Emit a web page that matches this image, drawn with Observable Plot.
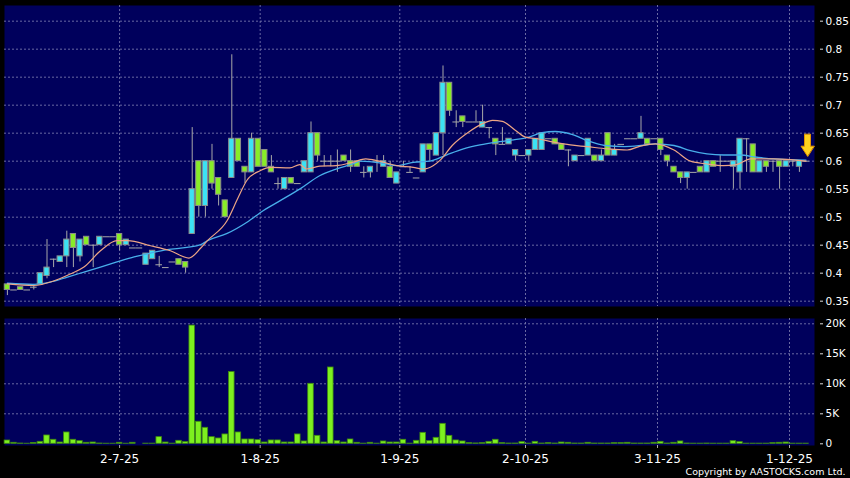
<!DOCTYPE html>
<html><head><meta charset="utf-8">
<script src="https://cdn.jsdelivr.net/npm/d3@7"></script>
<script src="https://cdn.jsdelivr.net/npm/@observablehq/plot@0.6"></script>
<style>
html,body{margin:0;padding:0;background:#000;}
#chart{position:relative;width:850px;height:478px;background:#000;overflow:hidden;font-family:"DejaVu Sans",sans-serif;}
#price{position:absolute;left:0;top:0;}
#vol{position:absolute;left:0;top:312px;}
svg{display:block;}
</style></head><body>
<div id="chart"><div id="price"></div><div id="vol"></div></div>
<script>
// ---- data ----
const open  = [.38,.37,.375,.37,.375,.38,.395,.425,.42,.43,.47,.43,.465,.45,.45,.465,.465,.47,.45,.445,.445,.415,.425,.415,.41,.42,.425,.42,
  .47,.60,.52,.60,.57,.53,.57,.64,.59,.58,.64,.62,.59,.56,.55,.57,.56,.58,.58,.65,.60,.60,.60,.61,.60,.60,.58,.58,.60,.59,.59,.56,.59,.58,.57,
  .58,.63,.61,.65,.74,.67,.68,.67,.67,.66,.66,.64,.63,.63,.61,.61,.61,.62,.62,.64,.64,.63,.62,.60,.61,.61,.61,.60,.65,.61,.63,.64,.64,.64,.64,
  .64,.64,.61,.59,.58,.57,.58,.59,.58,.60,.60,.60,.59,.58,.64,.63,.58,.60,.60,.60,.59,.60,.59,.60];
const high  = [.38,.37,.375,.37,.38,.40,.46,.425,.43,.475,.47,.46,.465,.45,.465,.465,.465,.47,.46,.445,.445,.435,.44,.43,.41,.42,.425,.42,
  .66,.60,.60,.63,.57,.53,.79,.64,.59,.65,.64,.62,.61,.57,.57,.57,.56,.60,.67,.65,.61,.61,.62,.61,.62,.60,.59,.59,.61,.61,.60,.58,.60,.59,.57,
  .63,.63,.65,.77,.74,.69,.68,.67,.69,.70,.66,.64,.66,.64,.62,.61,.62,.64,.65,.64,.64,.63,.62,.61,.61,.64,.61,.62,.65,.63,.63,.64,.64,.68,.64,
  .64,.64,.61,.59,.58,.58,.58,.59,.60,.60,.61,.60,.60,.64,.64,.63,.60,.60,.60,.60,.60,.60,.60,.60];
const low   = [.36,.37,.37,.37,.37,.38,.39,.41,.42,.41,.41,.42,.45,.41,.45,.465,.465,.44,.45,.445,.445,.415,.425,.41,.41,.42,.415,.40,
  .47,.50,.50,.55,.52,.50,.57,.60,.56,.58,.59,.59,.58,.55,.55,.56,.56,.58,.58,.60,.59,.59,.58,.60,.58,.59,.57,.57,.58,.59,.57,.56,.59,.58,.57,
  .58,.60,.61,.61,.68,.66,.66,.67,.67,.66,.64,.61,.63,.63,.60,.61,.60,.62,.62,.64,.63,.62,.59,.60,.61,.61,.60,.60,.61,.61,.63,.64,.64,.64,.63,
  .64,.61,.59,.58,.56,.55,.58,.58,.58,.59,.58,.60,.55,.55,.58,.58,.58,.58,.58,.55,.59,.59,.58,.60];
const close = [.37,.37,.37,.37,.375,.40,.41,.425,.43,.46,.445,.46,.45,.45,.465,.465,.465,.45,.46,.445,.445,.435,.44,.415,.41,.42,.415,.41,
  .55,.52,.60,.56,.54,.50,.64,.60,.58,.64,.59,.59,.58,.56,.57,.56,.56,.60,.65,.61,.60,.60,.60,.60,.59,.59,.58,.59,.60,.60,.57,.58,.59,.58,.57,
  .63,.62,.65,.74,.69,.67,.67,.67,.67,.67,.66,.63,.63,.64,.62,.61,.62,.64,.65,.64,.63,.62,.62,.61,.61,.64,.60,.61,.61,.62,.63,.64,.64,.65,.63,
  .64,.62,.60,.58,.57,.58,.58,.58,.60,.59,.60,.60,.60,.64,.64,.58,.60,.59,.60,.59,.60,.60,.60,.60];
const volume = [550,170,50,20,150,330,1390,670,220,1890,670,440,170,220,50,20,20,170,20,170,0,30,30,1110,220,30,500,280,
  19700,3670,2670,1110,890,1560,11950,1890,720,720,610,220,560,560,220,220,1560,390,10000,1330,220,12720,440,220,720,170,30,170,30,390,220,220,670,30,500,
  1830,440,1000,3330,1330,560,390,110,60,110,330,670,110,50,50,280,30,330,50,110,50,220,170,50,50,170,50,50,50,110,110,170,50,50,50,
  170,330,50,170,390,50,30,30,50,30,30,30,440,280,30,30,30,30,110,170,220,30,30,30];

const ma10Index = [0,4,7,9.6,11.6,14.1,16.6,18.2,21.7,24.7,27.5,29.3,30.3,33.3,35,36.3,38.3,39.8,42.8,44.3,45.3,47.3,49.8,52.3,54.3,56.3,59,61.5,63,64.5,65.5,67.4,69.9,72,73.5,75,77,78.5,80.3,82.8,85.3,87.8,90.9,93.9,95.9,98.2,101,103.5,106,108.5,110.5,112.6,116.1,121];
const ma10Value = [.381,.378,.386,.399,.411,.44,.458,.458,.449,.44,.427,.445,.458,.494,.536,.566,.583,.589,.588,.594,.586,.591,.592,.598,.604,.60,.592,.589,.586,.592,.601,.628,.652,.667,.673,.671,.655,.643,.64,.634,.629,.626,.622,.62,.627,.631,.62,.60,.595,.592,.594,.604,.604,.60];
const ma20Index = [0,4,6.5,9.1,11.6,14.1,16.6,19.2,21.7,24.2,27.2,29.3,30.3,33.3,36.3,38.8,41.4,44.4,47.3,49.8,52.3,53.5,57,59,61.5,64,66.5,69.1,71.6,74.1,76.7,79,81,83,85.5,88,90.5,93.5,96,98.2,101,103.5,106,108.5,111,113.6,116.1,121];
const ma20Value = [.382,.380,.384,.393,.402,.411,.42,.429,.436,.442,.446,.451,.458,.471,.491,.512,.53,.551,.574,.586,.595,.60,.596,.592,.598,.60,.611,.622,.629,.634,.638,.643,.651,.653,.648,.636,.628,.626,.628,.631,.628,.619,.613,.611,.611,.607,.604,.602];

const dateLabels = ["2-7-25","1-8-25","1-9-25","2-10-25","3-11-25","1-12-25"];
const dateIndex  = [17.0, 38.3, 59.45, 78.5, 98.5, 118.5];
const priceTicks = [0.35,0.4,0.45,0.5,0.55,0.6,0.65,0.7,0.75,0.8,0.85];
const volTicks = [0,5000,10000,15000,20000];
const volTickLabels = ["0","5K","10K","15K","20K"];
const copyright = "Copyright by AASTOCKS.com Ltd.";

// ---- styles ----
const NAVY = "#00005c", GRID = "#7474aa", CYAN = "#3ce2f4", GREEN = "#88ec28", VOLG = "#7df01f";
const WICK = "#a8a8a8", OUTLINE = "#8c8c8c", MA10C = "#eda585", MA20C = "#48aeea";
const FONT = "DejaVu Sans";

const candles = open.map((o, i) => ({i, o, h: high[i], l: low[i], c: close[i]}));
const bodies = candles.filter(d => d.o !== d.c);
const dojis = candles.filter(d => d.o === d.c);
const ma10 = ma10Index.map((i, k) => ({i, v: ma10Value[k]}));
const ma20 = ma20Index.map((i, k) => ({i, v: ma20Value[k]}));
const vols = volume.map((v, i) => ({i, v}));
const last = candles[candles.length - 1];
const dateOf = new Map(dateIndex.map((d, k) => [d, dateLabels[k]]));
const volOf = new Map(volTicks.map((d, k) => [d, volTickLabels[k]]));

const xOpts = {type: "linear", domain: [-0.44, 122.287], axis: null};
const bw = 0.4;

const blockArrow = {
  draw(ctx, l) {
    const hw = 6.5, sw = 3, hh = 10;
    ctx.moveTo(0, 0);
    ctx.lineTo(-hw, -hh);
    ctx.lineTo(-sw, -hh);
    ctx.lineTo(-sw, -l);
    ctx.lineTo(sw, -l);
    ctx.lineTo(sw, -hh);
    ctx.lineTo(hw, -hh);
    ctx.closePath();
  }
};

const price = Plot.plot({
  width: 850, height: 312, marginTop: 5, marginBottom: 6, marginLeft: 4, marginRight: 36,
  style: {background: "#000", color: "#fff", fontFamily: FONT, fontSize: "10.5px", overflow: "visible"},
  x: xOpts,
  y: {domain: [0.3405, 0.878], axis: null},
  marks: [
    Plot.frame({fill: NAVY, stroke: "none"}),
    Plot.gridY(priceTicks, {stroke: GRID, strokeOpacity: 0.9, strokeDasharray: "2,2"}),
    Plot.gridX(dateIndex, {stroke: GRID, strokeOpacity: 0.9, strokeDasharray: "2,2"}),
    Plot.axisY(priceTicks, {anchor: "right", label: null, tickSize: 3, dx: 5, tickPadding: 3, stroke: "#ddd", fill: "#fff",
      tickFormat: d => String(+d.toFixed(2)), fontSize: 10.5}),
    Plot.ruleX(candles, {x: "i", y1: "l", y2: "h", stroke: WICK, strokeWidth: 1}),
    Plot.rect(bodies, {x1: d => d.i - bw, x2: d => d.i + bw, y1: "o", y2: "c",
      fill: d => d.c > d.o ? CYAN : GREEN, stroke: OUTLINE, strokeWidth: 1}),
    Plot.ruleY(dojis, {y: "c", x1: d => d.i - 0.5, x2: d => d.i + 0.5, stroke: WICK, strokeWidth: 1}),
    Plot.line(ma20, {x: "i", y: "v", stroke: MA20C, strokeWidth: 1.3, curve: "monotone-x"}),
    Plot.line(ma10, {x: "i", y: "v", stroke: MA10C, strokeWidth: 1.2, curve: "monotone-x"}),
    Plot.vector([last], {x: "i", y: "c", length: 22, anchor: "start", shape: blockArrow,
      fill: "#ffd21e", stroke: "#e09400", strokeWidth: 1, dx: 1.5, dy: -5})
  ]
});
document.getElementById("price").appendChild(price);

const vol = Plot.plot({
  width: 850, height: 166, marginTop: 6, marginBottom: 33, marginLeft: 4, marginRight: 36,
  style: {background: "#000", color: "#fff", fontFamily: FONT, fontSize: "10.5px", overflow: "visible"},
  x: xOpts,
  y: {domain: [-283, 20883], axis: null},
  marks: [
    Plot.frame({fill: NAVY, stroke: "none"}),
    Plot.gridY(volTicks.filter(d => d > 0), {stroke: GRID, strokeOpacity: 0.9, strokeDasharray: "2,2"}),
    Plot.gridX(dateIndex, {stroke: GRID, strokeOpacity: 0.9, strokeDasharray: "2,2"}),
    Plot.axisY(volTicks, {anchor: "right", label: null, tickSize: 3, dx: 5, tickPadding: 3, stroke: "#ddd", fill: "#fff",
      tickFormat: d => volOf.get(d), fontSize: 10.5}),
    Plot.axisX(dateIndex, {anchor: "bottom", label: null, tickSize: 3, tickPadding: 6, stroke: "#aaa", fill: "#fff",
      tickFormat: d => dateOf.get(d), fontSize: 12}),
    Plot.rectY(vols.filter(d => d.v > 0), {x1: d => d.i - 0.42, x2: d => d.i + 0.42, y1: 0, y2: "v",
      fill: VOLG, stroke: "#3f8a10", strokeWidth: 0.8}),
    Plot.text([copyright], {text: d => d, frameAnchor: "bottom-right", dx: 31, dy: 26,
      textAnchor: "end", lineAnchor: "middle", fill: "#fff", fontSize: 9.5})
  ]
});
document.getElementById("vol").appendChild(vol);
</script>
</body></html>
